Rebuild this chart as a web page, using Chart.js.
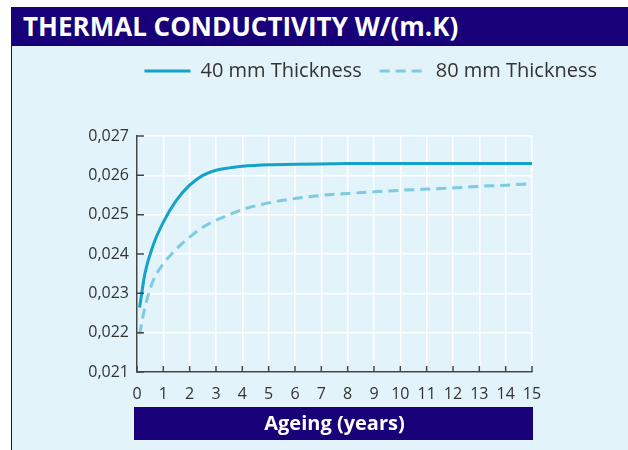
<!DOCTYPE html>
<html>
<head>
<meta charset="utf-8">
<script src="https://cdn.jsdelivr.net/npm/chart.js@4.4.0/dist/chart.umd.min.js"></script>
<style>
  body { margin: 0; background: #fff; }
  #panel { position: absolute; left: 11px; top: 7px; width: 616px; height: 443px; background: #e2f3f9; border-left: 1px solid #170078; }
  #title { height: 39px; line-height: 39px; background: #170078; color: #fff; font-family: 'Open Sans', sans-serif; font-weight: bold; font-size: 26px; padding-left: 11px; white-space: nowrap; }
  #wrap { position: absolute; left: 0; top: 36px; width: 603px; height: 407px; }
</style>
</head>
<body>
<div id="panel">
  <div id="title">THERMAL CONDUCTIVITY W/(m.K)</div>
  <div id="wrap"><canvas id="myChart"></canvas></div>
</div>
<script>
  // values
  const years = [0.1, 0.3, 0.6, 1, 1.5, 2, 2.5, 3, 3.5, 4, 5, 6, 7, 8, 9, 10, 11, 12, 13, 14, 15];
  const thick40 = [0.02264, 0.02350, 0.02420, 0.02481, 0.02537, 0.02575, 0.02600, 0.02613, 0.02619, 0.02623, 0.02627,
    0.02628, 0.02629, 0.02630, 0.02630, 0.02630, 0.02630, 0.02630, 0.02630, 0.02630, 0.02630];
  const thick80 = [0.02196, 0.02264, 0.02330, 0.02375, 0.02413, 0.02443, 0.02468, 0.02486, 0.02500, 0.02513, 0.02530,
    0.02541, 0.02549, 0.02554, 0.02558, 0.02562, 0.02565, 0.02568, 0.02572, 0.02575, 0.02579];
  const seriesNames = ['40 mm Thickness', '80 mm Thickness'];
  const xTitle = 'Ageing (years)';
  const yMin = 0.021, yMax = 0.027, yStep = 0.001;
  const xMin = 0, xMax = 15;

  const navy = '#170078';
  const axisColor = '#454545';
  const textColor = '#333';

  const toPoints = function(values){
    return years.map((yr, i) => ({ x: yr, y: values[i] }));
  };

  // legend sits in a tall box so the plot starts lower
  const legendHeight = {
    id: 'legendHeight',
    beforeInit(chart) {
      const fit = chart.legend.fit;
      chart.legend.fit = function() {
        fit.call(this);
        this.height = 93;
      };
    }
  };

  // short tick marks pointing into the plot
  const innerTicks = {
    id: 'innerTicks',
    afterDatasetsDraw(chart) {
      const { ctx, chartArea: a, scales: { x, y } } = chart;
      ctx.save();
      ctx.strokeStyle = axisColor;
      ctx.lineWidth = 1.5;
      ctx.beginPath();
      x.ticks.forEach(t => {
        const px = x.getPixelForValue(t.value);
        ctx.moveTo(px, a.bottom);
        ctx.lineTo(px, a.bottom - 6);
      });
      y.ticks.forEach(t => {
        const py = y.getPixelForValue(t.value);
        ctx.moveTo(a.left, py);
        ctx.lineTo(a.left + 7, py);
      });
      ctx.stroke();
      ctx.restore();
    }
  };

  // navy bar with the x axis title
  const axisBox = {
    id: 'axisBox',
    afterDraw(chart) {
      const { ctx, chartArea: a } = chart;
      ctx.save();
      ctx.fillStyle = navy;
      ctx.fillRect(a.left - 3, a.bottom + 35, a.right - a.left + 4, 33);
      ctx.fillStyle = '#fff';
      ctx.font = 'bold 20px "Open Sans"';
      ctx.textAlign = 'center';
      ctx.textBaseline = 'middle';
      ctx.fillText(xTitle, (a.left + a.right) / 2, a.bottom + 52);
      ctx.restore();
    }
  };

  Chart.defaults.font.family = '"Open Sans", sans-serif';
  Chart.defaults.color = textColor;

  const ctx = document.getElementById('myChart').getContext('2d');
  // eslint-disable-next-line no-unused-vars
  const myChart = new Chart(ctx, {
    type: 'line',
    data: {
      datasets: [
        {
          label: seriesNames[0],
          data: toPoints(thick40),
          borderColor: '#14a1ca',
          backgroundColor: '#14a1ca',
          borderWidth: 3,
          pointRadius: 0,
          cubicInterpolationMode: 'monotone',
        },
        {
          label: seriesNames[1],
          data: toPoints(thick80),
          borderColor: '#7ccbe2',
          backgroundColor: '#7ccbe2',
          borderWidth: 3,
          borderDash: [10, 6],
          pointRadius: 0,
          cubicInterpolationMode: 'monotone',
        }
      ]
    },
    options: {
      responsive: true,
      maintainAspectRatio: false,
      animation: false,
      layout: { padding: 0 },
      scales: {
        x: {
          type: 'linear',
          min: xMin,
          max: xMax,
          grid: { color: '#ffffff', lineWidth: 1.5, drawTicks: false },
          border: { color: axisColor, width: 1.5 },
          ticks: { stepSize: 1, padding: 13, color: textColor, font: { size: 16 } },
          afterFit: s => { s.height = 78; },
        },
        y: {
          min: yMin,
          max: yMax,
          grid: { color: '#ffffff', lineWidth: 1.5, drawTicks: false },
          border: { color: axisColor, width: 1.5 },
          ticks: {
            stepSize: yStep,
            padding: 8,
            color: textColor,
            font: { size: 16 },
            callback: v => v.toFixed(3).replace('.', ','),
          },
          afterFit: s => { s.width = 125; },
        },
        r: {
          position: 'right',
          grid: { display: false },
          border: { display: false },
          ticks: { display: false },
          afterFit: s => { s.width = 83; },
        }
      },
      plugins: {
        legend: {
          position: 'top',
          align: 'end',
          labels: {
            usePointStyle: true,
            pointStyle: 'line',
            pointStyleWidth: 46,
            boxHeight: 4,
            padding: 18,
            color: textColor,
            font: { size: 20 },
            generateLabels: chart => {
              const items = Chart.defaults.plugins.legend.labels.generateLabels(chart);
              items.forEach(item => {
                const ds = chart.data.datasets[item.datasetIndex];
                item.lineDash = ds.borderDash || [];
                item.strokeStyle = ds.borderColor;
                item.lineWidth = ds.borderWidth;
              });
              return items;
            },
          },
        },
        tooltip: { enabled: false },
      },
    },
    plugins: [legendHeight, innerTicks, axisBox],
  });
</script>
</body>
</html>
